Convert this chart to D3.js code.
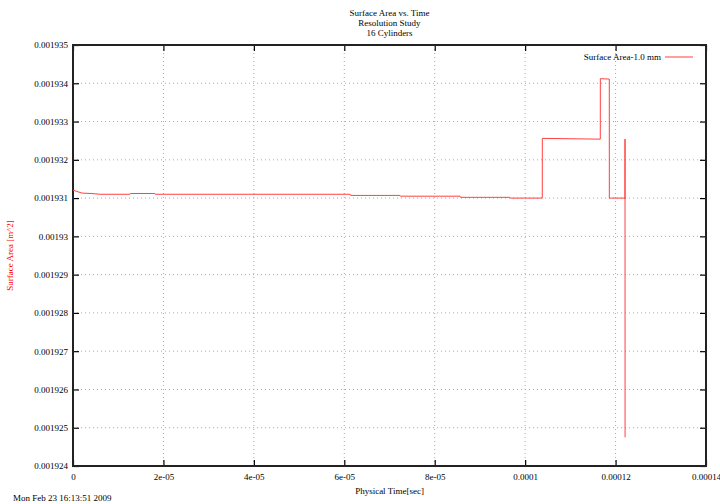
<!DOCTYPE html>
<html>
<head>
<meta charset="utf-8">
<script src="https://cdn.jsdelivr.net/npm/d3@7"></script>
<style>
  body { margin: 0; background: #fff; }
  svg text { font-family: "Liberation Serif", "DejaVu Serif", serif; font-size: 9px; fill: #000; }
</style>
</head>
<body>
<div id="chart"></div>
<script>
// chart data
let titleLines = ["Surface Area vs. Time", "Resolution Study", "16 Cylinders"];
let seriesName = "Surface Area-1.0 mm";
let times = [0, 0.7e-6, 2.0e-6, 4.0e-6, 6.0e-6, 1.26e-5, 1.27e-5, 1.81e-5, 1.82e-5,
             6.13e-5, 6.14e-5, 7.23e-5, 7.24e-5, 8.56e-5, 8.57e-5, 9.66e-5, 9.67e-5,
             1.0379e-4, 1.0380e-4, 1.1662e-4, 1.1663e-4, 1.1861e-4, 1.1862e-4,
             1.2200e-4, 1.2208e-4, 1.2209e-4, 1.2210e-4];
let areas = [0.00193121, 0.00193118, 0.00193113, 0.00193112, 0.00193110, 0.00193110, 0.00193112, 0.00193112, 0.00193110,
             0.00193110, 0.00193107, 0.00193107, 0.00193105, 0.00193105, 0.00193102, 0.00193102, 0.00193100,
             0.00193100, 0.00193256, 0.00193254, 0.00193412, 0.00193411, 0.00193100,
             0.00193100, 0.00193098, 0.00193254, 0.00192475];
let xTicks = [0, 2e-5, 4e-5, 6e-5, 8e-5, 1e-4, 1.2e-4, 1.4e-4];
let xTickLabels = ["0", "2e-05", "4e-05", "6e-05", "8e-05", "0.0001", "0.00012", "0.00014"];
let yTicks = [0.001924, 0.001925, 0.001926, 0.001927, 0.001928, 0.001929, 0.00193, 0.001931, 0.001932, 0.001933, 0.001934, 0.001935];
let yTickLabels = ["0.001924", "0.001925", "0.001926", "0.001927", "0.001928", "0.001929", "0.00193", "0.001931", "0.001932", "0.001933", "0.001934", "0.001935"];

let W = 720, H = 504;
let margin = {top: 45, right: 14, bottom: 38, left: 73},
    width = W - margin.left - margin.right,
    height = H - margin.top - margin.bottom;

let svg = d3.select("#chart").append("svg")
    .attr("width", W)
    .attr("height", H);

let g = svg.append("g").attr("transform", "translate(" + margin.left + "," + margin.top + ")");

let xScale = d3.scaleLinear().domain([0, 1.4e-4]).range([0, width]);
let yScale = d3.scaleLinear().domain([0.001924, 0.001935]).range([height, 0]);

// dotted grid
g.append("g").selectAll("line").data(xTicks.slice(1, -1)).enter().append("line")
    .attr("x1", d => xScale(d)).attr("x2", d => xScale(d))
    .attr("y1", 0).attr("y2", height)
    .attr("stroke", "#aaa").attr("stroke-width", 1).attr("stroke-dasharray", "1,3");
g.append("g").selectAll("line").data(yTicks.slice(1, -1)).enter().append("line")
    .attr("y1", d => yScale(d)).attr("y2", d => yScale(d))
    .attr("x1", 0).attr("x2", width)
    .attr("stroke", "#aaa").attr("stroke-width", 1).attr("stroke-dasharray", "1,3");

// axes with inward ticks on all four sides
let tickLen = 6;
let xAxis = g.append("g").attr("transform", "translate(0," + height + ")")
    .call(d3.axisBottom(xScale).tickValues(xTicks).tickSizeInner(-tickLen).tickSizeOuter(0)
        .tickFormat((d, i) => xTickLabels[i]));
xAxis.selectAll("text").attr("dy", "0").attr("y", 14);
let xTop = g.append("g")
    .call(d3.axisTop(xScale).tickValues(xTicks).tickSizeInner(-tickLen).tickSizeOuter(0).tickFormat(""));
let yAxis = g.append("g")
    .call(d3.axisLeft(yScale).tickValues(yTicks).tickSizeInner(-tickLen).tickSizeOuter(0)
        .tickFormat((d, i) => yTickLabels[i]));
yAxis.selectAll("text").attr("x", -5);
let yRight = g.append("g").attr("transform", "translate(" + width + ",0)")
    .call(d3.axisRight(yScale).tickValues(yTicks).tickSizeInner(-tickLen).tickSizeOuter(0).tickFormat(""));

[xAxis, xTop, yAxis, yRight].forEach(a => {
    a.select(".domain").remove();
    a.selectAll(".tick line").attr("stroke", "#000").attr("stroke-width", 1.2);
    a.selectAll("text").style("font-family", "Liberation Serif, DejaVu Serif, serif").style("font-size", "9px");
});

// frame
g.append("rect")
    .attr("x", 0).attr("y", 0).attr("width", width).attr("height", height)
    .attr("fill", "none").attr("stroke", "#222").attr("stroke-width", 2);

// series line
let points = times.map((t, i) => ({t: t, a: areas[i]}));
g.append("path")
    .datum(points)
    .attr("fill", "none")
    .attr("stroke", "#ff4040")
    .attr("stroke-width", 1)
    .attr("d", d3.line().x(d => xScale(d.t)).y(d => yScale(d.a)));

// legend
g.append("text")
    .attr("x", width - 45).attr("y", 15)
    .attr("text-anchor", "end")
    .text(seriesName);
g.append("line")
    .attr("x1", width - 41).attr("x2", width - 13)
    .attr("y1", 12).attr("y2", 12)
    .attr("stroke", "#ff4040").attr("stroke-width", 1);

// titles
svg.append("g").selectAll("text").data(titleLines).enter().append("text")
    .attr("x", margin.left + width / 2)
    .attr("y", (d, i) => 16 + i * 10)
    .attr("text-anchor", "middle")
    .text(d => d);

svg.append("text")
    .attr("x", margin.left + width / 2)
    .attr("y", 494)
    .attr("text-anchor", "middle")
    .text("Physical Time[sec]");

svg.append("text")
    .attr("transform", "translate(13," + (margin.top + height / 2) + ") rotate(-90)")
    .attr("text-anchor", "middle")
    .style("fill", "#ff0000")
    .text("Surface Area  [m^2]");

svg.append("text")
    .attr("x", 13)
    .attr("y", 501)
    .text("Mon Feb 23 16:13:51 2009");
</script>
</body>
</html>
